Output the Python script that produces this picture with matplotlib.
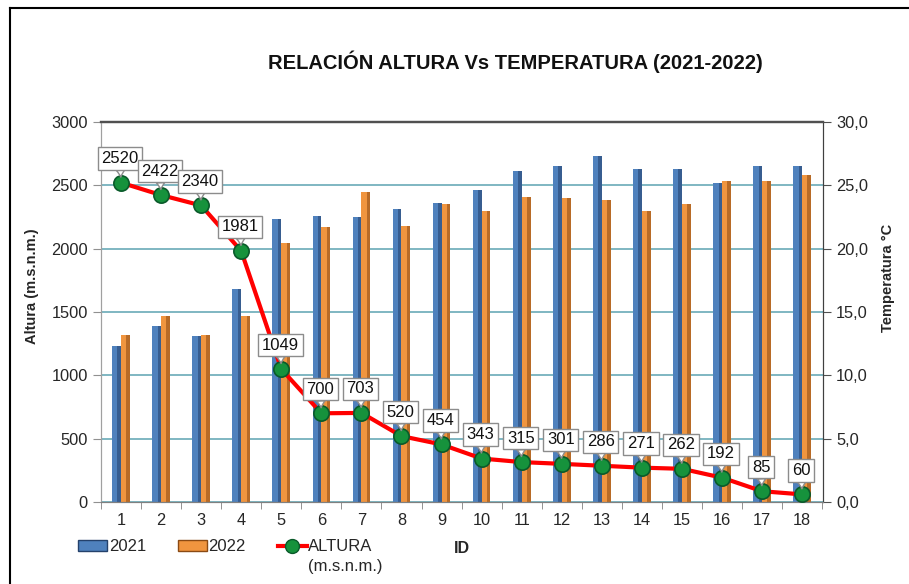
"""Relacion altura vs temperatura (2021-2022)."""

import matplotlib

matplotlib.use("Agg")
import matplotlib.pyplot as plt
from matplotlib.lines import Line2D
from matplotlib.patches import Patch
from matplotlib.ticker import FuncFormatter, MultipleLocator
import numpy as np

plt.rcParams["font.family"] = ["Liberation Sans", "DejaVu Sans"]

ids = list(range(1, 19))
temp_2021 = [12.3, 13.9, 13.1, 16.8, 22.3, 22.6, 22.5, 23.1, 23.6,
             24.6, 26.1, 26.5, 27.3, 26.3, 26.3, 25.2, 26.5, 26.5]
temp_2022 = [13.2, 14.7, 13.2, 14.7, 20.4, 21.7, 24.5, 21.8, 23.5,
             23.0, 24.1, 24.0, 23.8, 23.0, 23.5, 25.3, 25.3, 25.8]
altura = [2520, 2422, 2340, 1981, 1049, 700, 703, 520, 454,
          343, 315, 301, 286, 271, 262, 192, 85, 60]

BLUE = "#4F81BD"
BLUE_DARK = "#24416B"
ORANGE = "#F0953F"
ORANGE_DARK = "#8A4A14"
GRID = "#6AAAB8"
TEXT = "#262626"

fig = plt.figure(figsize=(9.09, 5.84), dpi=100)
ax_t = fig.add_axes([0.1111, 0.1404, 0.7943, 0.651])
ax_h = ax_t.twinx()

x = np.array(ids, dtype=float)
width = 0.22
for offset, values, face, dark in [(-0.11, temp_2021, BLUE, BLUE_DARK),
                                   (0.11, temp_2022, ORANGE, ORANGE_DARK)]:
    ax_t.bar(x + offset, values, width, color=face, edgecolor="none", zorder=2)
    # darker right side for a rounded look
    ax_t.bar(x + offset + width * 0.3, values, width * 0.4, color=dark,
             alpha=0.55, edgecolor="none", zorder=2)

ax_t.set_ylim(0, 30)
ax_t.set_xlim(0.55, 18.52)
ax_t.yaxis.set_major_locator(MultipleLocator(5))
ax_t.yaxis.set_major_formatter(FuncFormatter(lambda v, _: f"{v:.1f}".replace(".", ",")))
ax_t.yaxis.tick_right()
ax_t.grid(axis="y", color=GRID, linewidth=1.2, zorder=0)
ax_t.set_axisbelow(True)
ax_t.set_ylabel("Temperatura °C", fontsize=10.5, fontweight="bold", color=TEXT)
ax_t.yaxis.set_label_position("right")
ax_t.yaxis.set_label_coords(1.080, 0.59)

ax_h.plot(x, altura, color="#FF0000", linewidth=3, zorder=3)
ax_h.plot(x, altura, linestyle="none", marker="o", markersize=11,
          markerfacecolor="#16923C", markeredgecolor="#0A5A2A",
          markeredgewidth=1.2, zorder=4)
for xi, yi in zip(x, altura):
    ax_h.annotate(
        str(yi), (xi, yi), xytext=(-1, 24), textcoords="offset pixels",
        ha="center", va="center", fontsize=12, color="#111111", zorder=5,
        bbox=dict(boxstyle="square,pad=0.22", fc="white", ec="#8C8C8C", lw=1),
        arrowprops=dict(arrowstyle="wedge,tail_width=0.5,shrink_factor=0.4",
                        fc="white", ec="#8C8C8C", lw=1, shrinkA=0, shrinkB=4),
    )
ax_h.set_ylim(0, 3000)
ax_h.yaxis.set_major_locator(MultipleLocator(500))
ax_h.yaxis.tick_left()
ax_h.set_ylabel("Altura (m.s.n.m.)", fontsize=10.5, fontweight="bold", color=TEXT)
ax_h.yaxis.set_label_position("left")
ax_h.yaxis.set_label_coords(-0.086, 0.568)

ax_t.set_xticks(ids)
ax_t.set_xticks(np.arange(0.5, 19.0, 1.0), minor=True)
ax_t.tick_params(axis="x", which="major", length=0, labelsize=11.8, colors=TEXT, pad=8)
ax_t.tick_params(axis="x", which="minor", length=5, color="#808080")
ax_t.tick_params(axis="y", length=6, labelsize=11.8, colors=TEXT, color="#505050")
ax_h.tick_params(axis="y", length=6, labelsize=11.8, colors=TEXT, color="#909090")
ax_t.set_xlabel("ID", fontsize=11.5, fontweight="bold", color=TEXT, labelpad=9)

for axis in (ax_t, ax_h):
    axis.spines["top"].set_color("#505050")
    axis.spines["top"].set_linewidth(1.6)
    axis.spines["left"].set_color("#A0A0A0")
    axis.spines["right"].set_color("#404040")
    axis.spines["bottom"].set_color("#808080")

fig.text(0.567, 0.894, "RELACIÓN ALTURA Vs TEMPERATURA (2021-2022)",
         ha="center", va="center", fontsize=14.5, fontweight="bold", color="#111111")

handles = [
    Patch(facecolor=BLUE, edgecolor=BLUE_DARK),
    Patch(facecolor=ORANGE, edgecolor=ORANGE_DARK),
    Line2D([], [], color="#FF0000", linewidth=3, marker="o", markersize=10,
           markerfacecolor="#16923C", markeredgecolor="#0A5A2A"),
]
legend = fig.legend(handles, ["2021", "2022", "ALTURA"], loc="center left",
                    bbox_to_anchor=(0.0858, 0.0634), ncol=3, frameon=False,
                    fontsize=12, handlelength=1.75, handleheight=0.6,
                    handletextpad=0.1, columnspacing=1.9, borderaxespad=0,
                    borderpad=0, labelcolor=TEXT)

# second line of the ALTURA legend entry
fig.canvas.draw()
box = legend.get_texts()[2].get_window_extent()
x0, y0 = fig.transFigure.inverted().transform((box.x0, box.y0))
fig.text(x0, y0 - 0.008, "(m.s.n.m.)", ha="left", va="top", fontsize=12, color=TEXT)

# outer chart border (top and left edges visible)
fig.add_artist(Line2D([0.011, 1.0], [0.986, 0.986], color="black", linewidth=1.5,
                      transform=fig.transFigure))
fig.add_artist(Line2D([0.011, 0.011], [0.0, 0.986], color="black", linewidth=1.5,
                      transform=fig.transFigure))

fig.savefig("out.png", dpi=100)
